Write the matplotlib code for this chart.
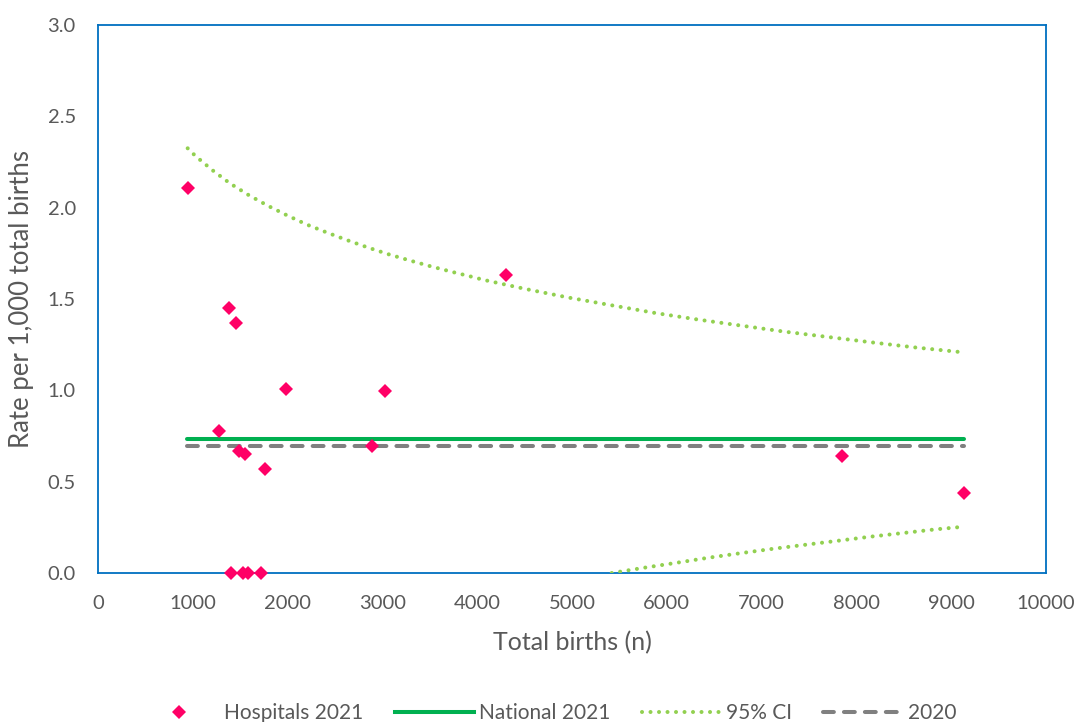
import matplotlib
matplotlib.use("Agg")
import matplotlib.pyplot as plt
from matplotlib.lines import Line2D
from matplotlib.ticker import FormatStrFormatter

plt.rcParams['font.family'] = ['Lato', 'DejaVu Sans']

# Hospitals 2021 (total births, rate per 1,000)
hosp_x = [946, 1382, 1456, 1280, 1983, 3027, 4304, 2887, 1491, 1547, 1762,
          7852, 9139, 1403, 1533, 1579, 1719]
hosp_y = [2.11, 1.45, 1.37, 0.78, 1.01, 0.995, 1.63, 0.695, 0.67, 0.65, 0.57,
          0.64, 0.44, 0.0, 0.0, 0.0, 0.0]

national_2021 = 0.732
rate_2020 = 0.693
line_x = [939, 9139]

# 95% CI upper limit
ci_up_x = [946, 1030, 1210, 1392, 1589, 1790, 1994, 2205, 2419, 2634, 2852,
           3070, 3288, 3509, 3731, 3956, 4065, 4518, 4972, 5424, 5882, 6334,
           6788, 7245, 7702, 8155, 8616, 9069]
ci_up_y = [2.325, 2.282, 2.204, 2.133, 2.069, 2.011, 1.958, 1.907, 1.863,
           1.821, 1.781, 1.744, 1.711, 1.679, 1.649, 1.620, 1.605, 1.554,
           1.507, 1.465, 1.423, 1.387, 1.354, 1.321, 1.292, 1.263, 1.235, 1.211]

# 95% CI lower limit (clipped at axis minimum)
ci_lo_x = [5419, 5763, 6104, 6445, 6786, 7127, 7468, 7813, 8151, 8495, 8836, 9064]
ci_lo_y = [0.0, 0.029, 0.056, 0.084, 0.109, 0.133, 0.155, 0.177, 0.199,
           0.219, 0.239, 0.250]

x_ticks = list(range(0, 10001, 1000))
y_ticks = [0.0, 0.5, 1.0, 1.5, 2.0, 2.5, 3.0]

PINK = '#FF0066'
GREEN = '#00B050'
LGREEN = '#92D050'
GRAY = '#808080'
BLUE = '#0070C0'
TXT = '#595959'

fig = plt.figure(figsize=(10.79, 7.22), dpi=100)
ax = fig.add_axes([98/1079, 1 - 573/722, (1046-98)/1079, (573-25)/722])

lw = 2.9
ax.plot(line_x, [national_2021]*2, color=GREEN, lw=lw, solid_capstyle='round', zorder=3)
ax.plot(line_x, [rate_2020]*2, color=GRAY, lw=lw, linestyle=(0, (2.7, 2.5)),
        dash_capstyle='round', zorder=3)
dot = (0, (0.01, 2.1))
ax.plot(ci_up_x, ci_up_y, color=LGREEN, lw=lw, linestyle=dot, dash_capstyle='round', zorder=3)
ax.plot(ci_lo_x, ci_lo_y, color=LGREEN, lw=lw, linestyle=dot, dash_capstyle='round', zorder=3)
ax.plot(hosp_x, hosp_y, linestyle='none', marker='D', ms=7.6, color=PINK,
        markeredgewidth=0, zorder=4, clip_on=False)

ax.set_xlim(0, 10000)
ax.set_ylim(0, 3.0)
ax.set_xticks(x_ticks)
ax.set_yticks(y_ticks)
ax.yaxis.set_major_formatter(FormatStrFormatter('%.1f'))
ax.tick_params(length=0, labelsize=14.5, labelcolor=TXT)
ax.tick_params(axis='y', pad=16)
ax.tick_params(axis='x', pad=16)
for s in ax.spines.values():
    s.set_color(BLUE)
    s.set_linewidth(1.3)

ax.set_xlabel('Total births (n)', fontsize=18, color=TXT)
ax.set_ylabel('Rate per 1,000 total births', fontsize=18.5, color=TXT)
ax.xaxis.set_label_coords(0.5, -(643 - 573) / (573 - 25), transform=ax.transAxes)
ax.xaxis.label.set_va('center')
ax.yaxis.set_label_coords(-(98 - 22) / (1046 - 98), 0.5, transform=ax.transAxes)
ax.yaxis.label.set_va('center')

handles = [
    Line2D([], [], linestyle='none', marker='D', ms=7.6, color=PINK, markeredgewidth=0),
    Line2D([], [], color=GREEN, lw=lw),
    Line2D([], [], color=LGREEN, lw=lw, linestyle=dot, dash_capstyle='round'),
    Line2D([], [], color=GRAY, lw=lw, linestyle=(0, (2.7, 2.5)), dash_capstyle='round'),
]
labels = ['Hospitals 2021', 'National 2021', '95% CI', '2020']
leg = fig.legend(handles, labels, loc='center', bbox_to_anchor=(548/1079, 1 - 713/722),
                 ncol=4, frameon=False, fontsize=15, handlelength=3.8,
                 columnspacing=1.5, handletextpad=0.25, borderpad=0)
for t in leg.get_texts():
    t.set_color(TXT)

fig.savefig('out.png', dpi=100)
